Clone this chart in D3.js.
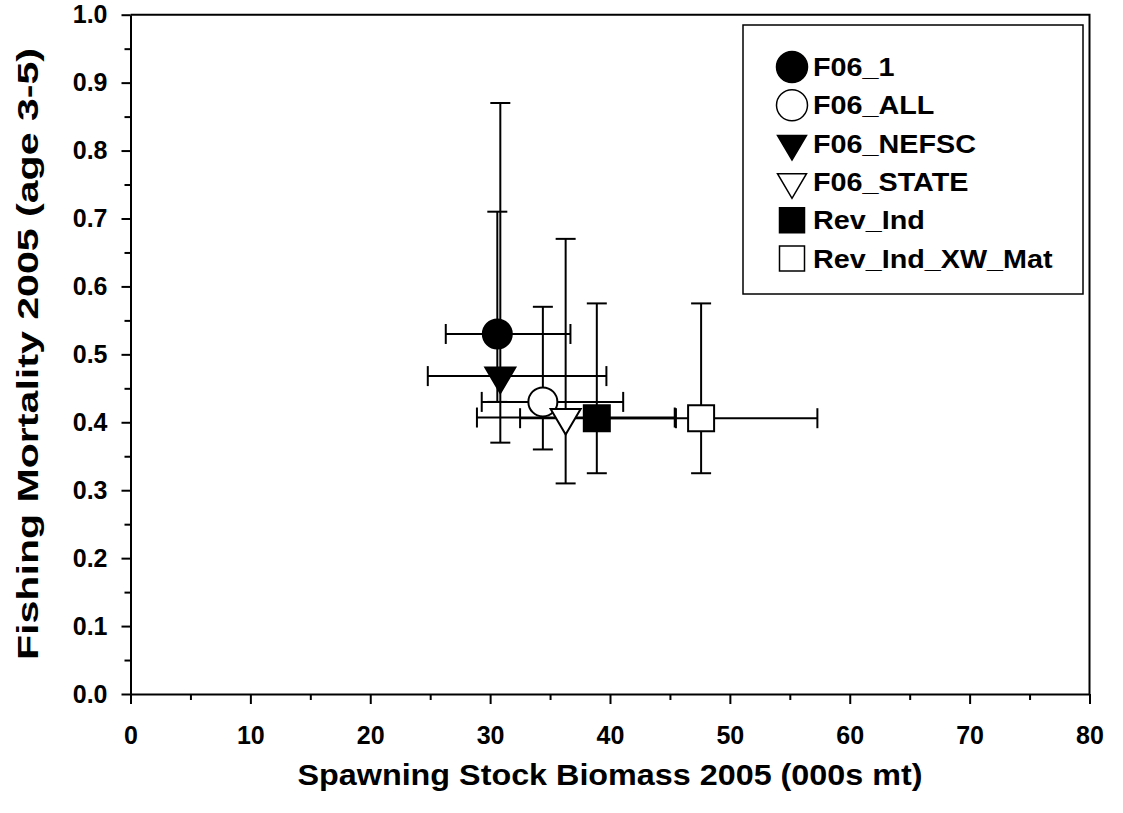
<!DOCTYPE html>
<html>
<head>
<meta charset="utf-8">
<script src="https://cdn.jsdelivr.net/npm/d3@7"></script>
<style>
    body { margin: 0; background: #fff; }
    svg text { font-family: "Liberation Sans", Arial, sans-serif; font-weight: bold; fill: #000; }
</style>
</head>
<body>
<svg id="chart" width="1123" height="813"></svg>
<script>
// values
const seriesNames = ['F06_1', 'F06_ALL', 'F06_NEFSC', 'F06_STATE', 'Rev_Ind', 'Rev_Ind_XW_Mat'];
const ssb = [30.6, 34.4, 30.85, 36.3, 38.9, 47.6];
const ssbLow = [26.3, 29.3, 24.8, 28.9, 32.5, 37.9];
const ssbHigh = [36.7, 41.1, 39.7, 45.4, 45.5, 57.3];
const fMort = [0.53, 0.43, 0.468, 0.407, 0.406, 0.406];
const fLow = [0.43, 0.36, 0.37, 0.31, 0.325, 0.325];
const fHigh = [0.71, 0.57, 0.87, 0.67, 0.575, 0.575];
const symbols = ['circle', 'circle', 'triangle', 'triangle', 'square', 'square'];
const filled = [true, false, true, false, true, false];

const xTicks = [0, 10, 20, 30, 40, 50, 60, 70, 80];
const yTicks = [0, 0.1, 0.2, 0.3, 0.4, 0.5, 0.6, 0.7, 0.8, 0.9, 1.0];

const svg = d3.select('#chart');
const margin = {left: 130.5, right: 1089.5, top: 14.7, bottom: 694};

let x = d3.scaleLinear().domain([0, 80]).range([margin.left, margin.right]);
let y = d3.scaleLinear().domain([0, 1]).range([margin.bottom, margin.top]);

let data = seriesNames.map((name, i) => ({
    name: name,
    x: ssb[i], x0: ssbLow[i], x1: ssbHigh[i],
    y: fMort[i], y0: fLow[i], y1: fHigh[i],
    symbol: symbols[i], filled: filled[i]
}));

// minor ticks
svg.append('g')
    .attr('transform', 'translate(0,' + margin.bottom + ')')
    .call(d3.axisBottom(x).tickValues(d3.range(5, 80, 10)).tickSize(6).tickFormat(''))
    .call(g => g.select('.domain').remove())
    .selectAll('line').attr('stroke', '#000').attr('stroke-width', 2);
svg.append('g')
    .attr('transform', 'translate(' + margin.left + ',0)')
    .call(d3.axisLeft(y).tickValues(d3.range(0.05, 1, 0.1)).tickSize(6).tickFormat(''))
    .call(g => g.select('.domain').remove())
    .selectAll('line').attr('stroke', '#000').attr('stroke-width', 2);

// major axes
let xAxis = svg.append('g')
    .attr('transform', 'translate(0,' + margin.bottom + ')')
    .call(d3.axisBottom(x).tickValues(xTicks).tickSize(10).tickSizeOuter(0).tickPadding(22).tickFormat(d3.format('d')));
let yAxis = svg.append('g')
    .attr('transform', 'translate(' + margin.left + ',0)')
    .call(d3.axisLeft(y).tickValues(yTicks).tickSize(9).tickSizeOuter(0).tickPadding(14).tickFormat(d3.format('.1f')));

[xAxis, yAxis].forEach(a => {
    a.attr('font-size', 25).attr('font-family', null);
    a.select('.domain').attr('stroke', '#000').attr('stroke-width', 2);
    a.selectAll('line').attr('stroke', '#000').attr('stroke-width', 2);
    a.selectAll('text').attr('font-size', 25).attr('font-weight', 'bold');
});

// frame top and right
svg.append('path')
    .attr('d', 'M' + x(0) + ',' + y(1) + 'H' + x(80) + 'V' + y(0))
    .attr('fill', 'none').attr('stroke', '#000').attr('stroke-width', 2);

// axis titles (reference type runs wide, so stretch to its length)
svg.append('text')
    .attr('x', (margin.left + margin.right) / 2)
    .attr('y', 785)
    .attr('text-anchor', 'middle')
    .attr('font-size', 29)
    .attr('textLength', 625)
    .attr('lengthAdjust', 'spacingAndGlyphs')
    .text('Spawning Stock Biomass 2005 (000s mt)');
svg.append('text')
    .attr('transform', 'translate(38,354) rotate(-90)')
    .attr('text-anchor', 'middle')
    .attr('font-size', 29)
    .attr('textLength', 612)
    .attr('lengthAdjust', 'spacingAndGlyphs')
    .text('Fishing Mortality 2005 (age 3-5)');

// error bars
const cap = 10;
let bars = svg.append('g').attr('stroke', '#000').attr('stroke-width', 2).attr('fill', 'none');
data.forEach(d => {
    bars.append('line').attr('x1', x(d.x)).attr('x2', x(d.x)).attr('y1', y(d.y0)).attr('y2', y(d.y1));
    bars.append('line').attr('x1', x(d.x) - cap).attr('x2', x(d.x) + cap).attr('y1', y(d.y0)).attr('y2', y(d.y0));
    bars.append('line').attr('x1', x(d.x) - cap).attr('x2', x(d.x) + cap).attr('y1', y(d.y1)).attr('y2', y(d.y1));
    bars.append('line').attr('x1', x(d.x0)).attr('x2', x(d.x1)).attr('y1', y(d.y)).attr('y2', y(d.y));
    bars.append('line').attr('x1', x(d.x0)).attr('x2', x(d.x0)).attr('y1', y(d.y) - cap).attr('y2', y(d.y) + cap);
    bars.append('line').attr('x1', x(d.x1)).attr('x2', x(d.x1)).attr('y1', y(d.y) - cap).attr('y2', y(d.y) + cap);
});

// marker shapes, centred on the point
let markerPath = (kind, s) => {
    if (kind === 'circle') return d3.symbol(d3.symbolCircle, Math.PI * s * s / 4)();
    if (kind === 'square') return 'M' + (-s / 2) + ',' + (-s / 2) + 'h' + s + 'v' + s + 'h' + (-s) + 'Z';
    // downward triangle, centroid at origin
    let h = s * 0.85;
    return 'M' + (-s / 2) + ',' + (-h / 3) + 'L' + (s / 2) + ',' + (-h / 3) + 'L0,' + (2 * h / 3) + 'Z';
};
let markerSize = {circle: 29, square: 26, triangle: 30};

svg.append('g').selectAll('path.marker')
    .data(data)
  .enter().append('path')
    .attr('class', 'marker')
    .attr('transform', d => 'translate(' + x(d.x) + ',' + y(d.y) + ')')
    .attr('d', d => markerPath(d.symbol, markerSize[d.symbol]))
    .attr('fill', d => d.filled ? '#000' : '#fff')
    .attr('stroke', '#000')
    .attr('stroke-width', 2);

// legend
let legend = svg.append('g');
legend.append('rect')
    .attr('x', 743).attr('y', 25).attr('width', 340).attr('height', 269)
    .attr('fill', '#fff').attr('stroke', '#000').attr('stroke-width', 1.5);
let rows = legend.selectAll('g.row')
    .data(data)
  .enter().append('g')
    .attr('class', 'row')
    .attr('transform', (d, i) => 'translate(792,' + (67 + i * 38.3) + ')');
rows.append('path')
    .attr('d', d => markerPath(d.symbol, d.symbol === 'circle' ? 31 : markerSize[d.symbol] - 1))
    .attr('fill', d => d.filled ? '#000' : '#fff')
    .attr('stroke', '#000')
    .attr('stroke-width', 1.5);
rows.append('text')
    .attr('transform', 'translate(21,0) scale(1.15,1)')
    .attr('dy', '0.36em')
    .attr('font-size', 25)
    .text(d => d.name);
</script>
</body>
</html>
